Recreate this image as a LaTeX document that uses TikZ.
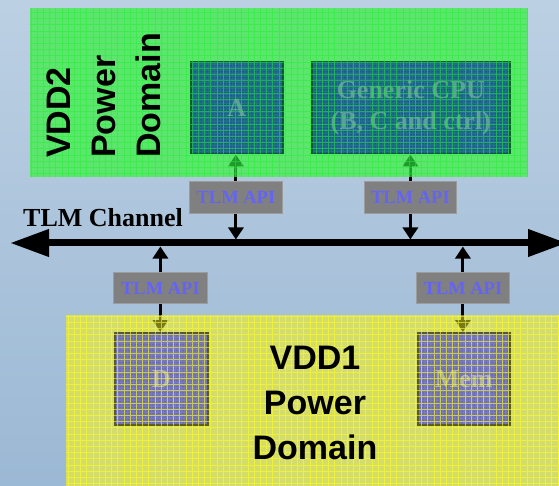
\documentclass[tikz,border=0pt]{standalone}
\usepackage{fontspec}
\setmainfont{Liberation Serif}
\setsansfont{Liberation Sans}
\usetikzlibrary{arrows.meta,patterns}

\definecolor{skytop}{HTML}{BCD0E3}
\definecolor{skybot}{HTML}{9BB8D4}
\definecolor{vddgreen}{HTML}{5CE66E}
\definecolor{gridgreen}{HTML}{22F030}
\definecolor{vddyellow}{HTML}{D4DC6C}
\definecolor{gridyellow}{HTML}{FFFF20}
\definecolor{coreteal}{HTML}{22708A}
\definecolor{coreedge}{HTML}{0B5F2A}
\definecolor{coretext}{HTML}{5C9E9A}
\definecolor{memfill}{HTML}{7A7BB0}
\definecolor{memedge}{HTML}{5C5C22}
\definecolor{memtext}{HTML}{B4B49C}
\definecolor{apigrey}{HTML}{808080}
\definecolor{apiedge}{HTML}{9C9C9C}
\definecolor{apitext}{HTML}{6464F4}
\definecolor{tipgreen}{HTML}{1F9A2C}
\definecolor{tipolive}{HTML}{7A7A14}

\begin{document}
\begin{tikzpicture}[x=1pt,y=-1pt,
  box/.style={rectangle, inner sep=0pt, anchor=north west},
  zonebox/.style={box, draw=none},
  core/.style={box, fill=coreteal, draw=coreedge, line width=1.5pt, text=coretext,
    font=\bfseries\fontsize{26}{31}\selectfont, align=center,
    postaction={pattern=dots, pattern color=blue!75!black}},
  memblock/.style={box, fill=memfill, draw=memedge, line width=1.5pt, text=memtext,
    font=\bfseries\fontsize{26}{31}\selectfont, align=center,
    postaction={pattern=dots, pattern color=blue!85}},
  api/.style={box, fill=apigrey, draw=apiedge, line width=0.8pt, text=apitext,
    font=\bfseries\fontsize{18.5}{20}\selectfont},
  link/.style={line width=3pt, -{Triangle[length=12pt,width=15pt]}},
  stem/.style={line width=3pt},
  bus/.style={line width=7pt,
    {Triangle[length=39pt,width=26pt]}-{Triangle[length=39pt,width=26pt]}},
  domlabel/.style={inner sep=0pt, font=\sffamily\bfseries\fontsize{34}{45}\selectfont},
  gridg/.style={draw=gridgreen, line width=0.7pt, opacity=0.5, xstep=6.2pt, ystep=6.2pt},
  gridy/.style={draw=gridyellow, line width=0.7pt, opacity=0.6, xstep=6.2pt, ystep=6.2pt}
]
\useasboundingbox (0,0) rectangle (559,486);
\shade[top color=skytop, bottom color=skybot] (0,0) rectangle (559,486);

% power domains
\node[zonebox, fill=vddgreen, minimum width=498pt, minimum height=169pt] (vdd2) at (30,8) {};
\node[zonebox, fill=vddyellow, minimum width=493pt, minimum height=171pt] (vdd1) at (66,315) {};

% functional blocks
\node[core, minimum width=92pt, minimum height=92pt] (A) at (190,61) {A};
\node[core, minimum width=198pt, minimum height=92pt] (cpu) at (311,61) {Generic CPU\\(B, C and ctrl)};
\node[memblock, minimum width=93pt, minimum height=92pt] (D) at (114,332) {D};
\node[memblock, minimum width=92pt, minimum height=92pt] (mem) at (417,332) {Mem};

% TLM API adapters
\node[api, minimum width=93pt, minimum height=32pt] (apiA) at (189,181) {TLM API};
\node[api, minimum width=92pt, minimum height=32pt] (apiC) at (364,181) {TLM API};
\node[api, minimum width=94pt, minimum height=31pt] (apiD) at (113,272) {TLM API};
\node[api, minimum width=93pt, minimum height=31pt] (apiM) at (416,272) {TLM API};

% bus (right head runs off the edge)
\coordinate (busL) at (10,243);
\coordinate (busR) at (567,243);
\coordinate (busT) at (10,239.5);
\coordinate (busB) at (10,246.5);
\draw[bus] (busL) -- (busR);

% adapters to bus
\draw[link] (apiA.south) -- (apiA.south |- busT);
\draw[link] (apiC.south) -- (apiC.south |- busT);
\draw[link] (apiD.north) -- (apiD.north |- busB);
\draw[link] (apiM.north) -- (apiM.north |- busB);

% adapters to blocks
\coordinate (eA) at (apiA.north |- vdd2.south);
\coordinate (eC) at (apiC.north |- vdd2.south);
\coordinate (eD) at (apiD.south |- vdd1.north);
\coordinate (eM) at (apiM.south |- vdd1.north);
\draw[stem] (apiA.north) -- (eA);
\draw[stem] (apiC.north) -- (eC);
\draw[stem] (apiD.south) -- (eD);
\draw[stem] (apiM.south) -- (eM);
\draw[link, draw=tipgreen] (eA) -- (eA |- A.south);
\draw[link, draw=tipgreen] (eC) -- (eC |- cpu.south);
\draw[link, draw=tipolive] (eD) -- (eD |- D.north);
\draw[link, draw=tipolive] (eM) -- (eM |- mem.north);

% domain grid texture
\draw[gridg] (vdd2.south west) grid (vdd2.north east);
\draw[gridy] (vdd1.south west) grid (vdd1.north east);

% labels
\node[domlabel, rotate=90, anchor=north west, align=left] (lab2) at (47,158) {VDD2\\Power\\Domain};
\node[domlabel, anchor=north, align=center] (lab1) at (315,346) {VDD1\\Power\\Domain};
\node[inner sep=0pt, anchor=base west, font=\bfseries\fontsize{26}{30}\selectfont] (chan) at (23,227) {TLM Channel};
\end{tikzpicture}
\end{document}
